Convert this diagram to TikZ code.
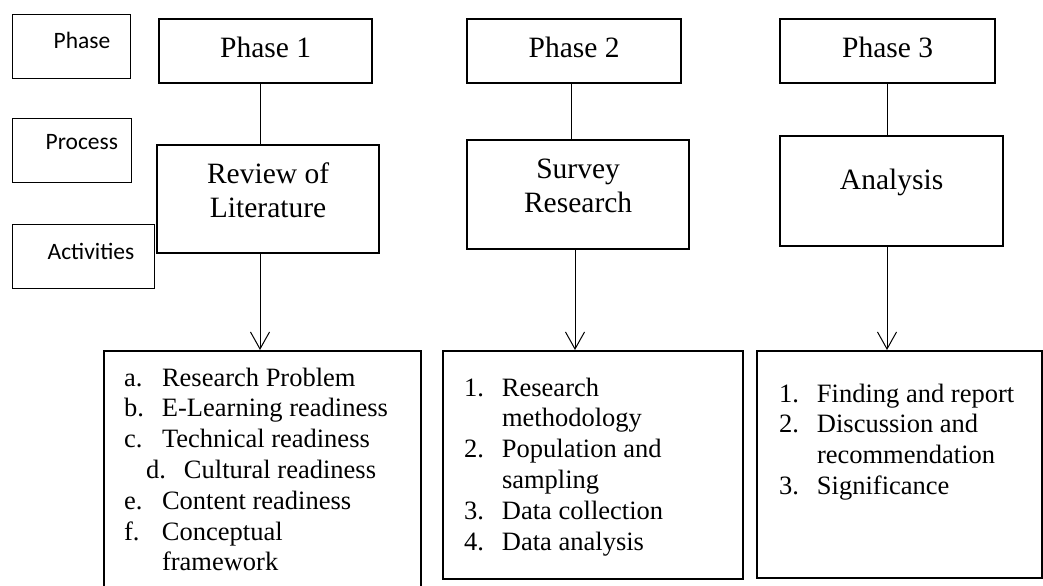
\documentclass[tikz,border=0pt]{standalone}
\usepackage{fontspec}
\setmainfont{Liberation Serif}
\newfontfamily\calibri{Carlito}
\usetikzlibrary{arrows.meta}

\newcommand{\actitem}[2]{\makebox[19pt][l]{#1}#2}

\begin{document}
\begin{tikzpicture}[x=0.5pt,y=-0.5pt,
  side/.style={draw, line width=0.65pt, inner sep=0pt, anchor=north west,
    font=\calibri\fontsize{11.75}{14}\selectfont},
  phase/.style={draw, line width=1.1pt, inner sep=0pt, anchor=north west,
    font=\fontsize{14.75}{17}\selectfont},
  activity/.style={draw, line width=1pt, inner sep=0pt, anchor=north west,
    font=\fontsize{13.25}{15.4}\selectfont},
  link/.style={line width=0.5pt},
  arr/.style={line width=0.5pt, -{Straight Barb[length=8.5pt,width=9.5pt]}}]
  \useasboundingbox (0,0) rectangle (1043,585);

  \node (phaselbl) [side] at (12,14) {
    \begin{minipage}[c][32pt][t]{59pt}
      \rule{0pt}{17pt}\hspace*{20.5pt}Phase
    \end{minipage}
  };
  \node (processlbl) [side] at (12,118) {
    \begin{minipage}[c][32pt][t]{59.5pt}
      \rule{0pt}{15.5pt}\hspace*{16.5pt}Process
    \end{minipage}
  };
  \node (activitylbl) [side] at (12,224) {
    \begin{minipage}[c][32pt][t]{71pt}
      \rule{0pt}{17.5pt}\hspace*{17.5pt}Activities
    \end{minipage}
  };

  \node (ph1) [phase] at (158,18) {
    \begin{minipage}[c][32pt][t]{106.5pt}
      \centering\rule{0pt}{19pt}Phase 1
    \end{minipage}
  };
  \node (ph2) [phase] at (466,18) {
    \begin{minipage}[c][32pt][t]{107pt}
      \centering\rule{0pt}{19pt}Phase 2
    \end{minipage}
  };
  \node (ph3) [phase] at (779,18) {
    \begin{minipage}[c][32pt][t]{107.5pt}
      \centering\rule{0pt}{19pt}Phase 3
    \end{minipage}
  };

  \node (review) [phase] at (156,144) {
    \begin{minipage}[c][54pt][t]{111pt}
      \centering\rule{0pt}{19pt}Review of\\Literature
    \end{minipage}
  };
  \node (survey) [phase] at (466,139) {
    \begin{minipage}[c][54.5pt][t]{111pt}
      \centering\rule{0pt}{19pt}Survey\\Research
    \end{minipage}
  };
  \node (analysis) [phase] at (779,135) {
    \begin{minipage}[c][55pt][t]{111.5pt}
      \centering\rule{0pt}{26.5pt}Analysis
    \end{minipage}
  };

  \node (act1) [activity] at (103,350) {
    \begin{minipage}[c][130pt][t]{158.5pt}
      \raggedright\leftskip=10pt
      \rule{0pt}{17.5pt}\actitem{a.}{Research Problem}\\
      \actitem{b.}{E-Learning readiness}\\
      \actitem{c.}{Technical readiness}\\
      \hspace*{11pt}\actitem{d.}{Cultural readiness}\\
      \actitem{e.}{Content readiness}\\
      \actitem{f.}{Conceptual}\\
      \actitem{}{framework}
    \end{minipage}
  };
  \node (act2) [activity] at (442,350) {
    \begin{minipage}[c][114pt][t]{150pt}
      \raggedright\leftskip=10.5pt
      \rule{0pt}{22.5pt}\actitem{1.}{Research}\\
      \actitem{}{methodology}\\
      \actitem{2.}{Population and}\\
      \actitem{}{sampling}\\
      \actitem{3.}{Data collection}\\
      \actitem{4.}{Data analysis}
    \end{minipage}
  };
  \node (act3) [activity] at (756,350) {
    \begin{minipage}[c][113.5pt][t]{142.5pt}
      \raggedright\leftskip=11pt
      \rule{0pt}{25.5pt}\actitem{1.}{Finding and report}\\
      \actitem{2.}{Discussion and}\\
      \actitem{}{recommendation}\\
      \actitem{3.}{Significance}
    \end{minipage}
  };

  \coordinate (col1) at (260,0);
  \coordinate (col2a) at (571,0);
  \coordinate (col2b) at (575,0);
  \coordinate (col3) at (887,0);

  \draw[link] (ph1.south -| col1) -- (review.north -| col1);
  \draw[link] (ph2.south -| col2a) -- (survey.north -| col2a);
  \draw[link] (ph3.south -| col3) -- (analysis.north -| col3);

  \draw[arr] (review.south -| col1) -- (act1.north -| col1);
  \draw[arr] (survey.south -| col2b) -- (act2.north -| col2b);
  \draw[arr] (analysis.south -| col3) -- (act3.north -| col3);
\end{tikzpicture}
\end{document}
